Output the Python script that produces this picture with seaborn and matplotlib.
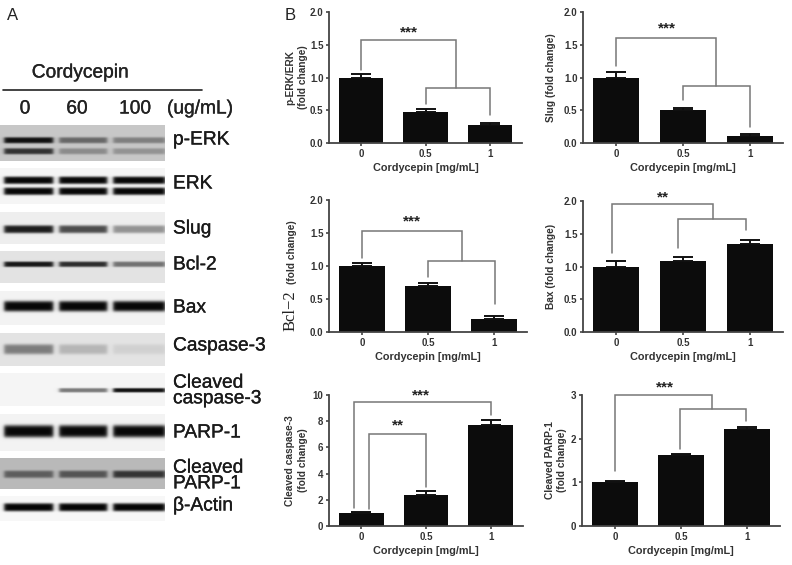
import numpy as np
import pandas as pd
import matplotlib
matplotlib.use('Agg')
import matplotlib.pyplot as plt
import matplotlib.patheffects as pe
import seaborn as sns

sns.set_style('white')
plt.rcParams['font.family'] = ['Liberation Sans', 'DejaVu Sans']

W, H = 792, 565

doses = ['0', '0.5', '1']

perk_vals = [1.0, 0.47, 0.27]
perk_err = [0.05, 0.05, 0.04]
slug_vals = [1.0, 0.5, 0.1]
slug_err = [0.09, 0.04, 0.03]
bcl_vals = [1.0, 0.69, 0.2]
bcl_err = [0.05, 0.05, 0.05]
bax_vals = [1.0, 1.08, 1.35]
bax_err = [0.08, 0.07, 0.05]
casp_vals = [1.0, 2.4, 7.7]
casp_err = [0.1, 0.3, 0.4]
parp_vals = [1.0, 1.62, 2.22]
parp_err = [0.04, 0.04, 0.04]

blot_labels = ['p-ERK', 'ERK', 'Slug', 'Bcl-2', 'Bax', 'Caspase-3', 'Cleaved\ncaspase-3',
               'PARP-1', 'Cleaved\nPARP-1', 'β-Actin']
blot_bg = [0.78, 0.96, 0.93, 0.89, 0.95, 0.89, 0.96, 0.95, 0.73, 0.97]
# band darkness per lane, one row per band
blot_bands = [
    [[0.92, 0.48, 0.36], [0.75, 0.3, 0.26]],
    [[0.97, 0.97, 0.97], [0.97, 0.97, 0.97]],
    [[0.88, 0.68, 0.38]],
    [[0.9, 0.8, 0.5]],
    [[0.97, 0.97, 0.97]],
    [[0.45, 0.2, 0.08]],
    [[0.0, 0.5, 0.93]],
    [[0.97, 0.97, 0.97]],
    [[0.5, 0.55, 0.72]],
    [[0.98, 0.98, 0.98]],
]

# strip layout in image pixels: top, bottom, band centres, band half thickness
strip_box = [(125, 161), (168, 204), (212, 244), (251, 283), (291, 325),
             (333, 366), (373, 406), (414, 451), (458, 489), (496, 521)]
band_y = [[140, 151], [180, 191], [229], [264], [306], [349], [390], [431], [474], [507]]
band_s = [2.8, 3.4, 3.6, 2.5, 4.8, 4.6, 2.0, 5.6, 3.4, 3.7]
label_y = [140, 184, 229, 265, 308, 346, 391, 433, 476, 506]
lanes = [(4, 53), (59, 107), (113, 165)]

heavy = [pe.withStroke(linewidth=0.22, foreground='#1a1a1a')]


def blot_strip(ax, i):
    y0, y1 = strip_box[i]
    xs = np.arange(0, 165, 0.5)
    ys = np.arange(y0, y1, 0.5)
    gx, gy = np.meshgrid(xs, ys)
    img = np.full(gx.shape, blot_bg[i], dtype=float)
    for row, yc in zip(blot_bands[i], band_y[i]):
        for dark, (a, b) in zip(row, lanes):
            mask = 0.5 * (np.tanh((gx - a) / 2.0) - np.tanh((gx - b) / 2.0))
            img -= dark * mask * np.exp(-((gy - yc) / band_s[i]) ** 4 / 1.5) * blot_bg[i]
    ax.imshow(img, extent=(0, 165, y1, y0), cmap='gray', vmin=0, vmax=1,
              aspect='auto', interpolation='bilinear')


def bar_panel(box, vals, err, ylim, yticks, fmt, ylabel, pad, brackets, stars):
    left, right, top, bottom = box
    ax = fig.add_axes([left / W, 1 - bottom / H, (right - left) / W, (bottom - top) / H])
    df = pd.DataFrame({'dose': doses, 'value': vals})
    sns.barplot(data=df, x='dose', y='value', order=doses, color='#0c0c0c', saturation=1,
                width=0.69, errorbar=None, linewidth=0, ax=ax)
    ax.errorbar([0, 1, 2], vals, yerr=[[0, 0, 0], err], fmt='none', ecolor='#111111',
                elinewidth=1.4, capsize=7.5, capthick=1.4)
    ax.set_xlim(-0.5, 2.5)
    ax.set_ylim(*ylim)
    ax.set_yticks(yticks)
    ax.set_yticklabels([fmt % t for t in yticks])
    sns.despine(ax=ax)
    for s in ['left', 'bottom']:
        ax.spines[s].set_color('#444444')
        ax.spines[s].set_linewidth(1.3)
    ax.tick_params(axis='both', length=2.5, width=1.2, color='#444444', left=True, bottom=True,
                   labelsize=7, labelcolor='#333333', pad=1.5)
    for t in ax.get_xticklabels() + ax.get_yticklabels():
        t.set_fontweight('bold')
    ax.set_xlabel('Cordycepin [mg/mL]', fontsize=7.8, fontweight='bold', color='#333333', labelpad=3)
    if ylabel:
        ax.set_ylabel(ylabel, fontsize=7.3, fontweight='bold', color='#333333', labelpad=pad,
                      linespacing=1.35)
    else:
        ax.set_ylabel('')
    for xs, ysb in brackets:
        ax.plot(xs, ysb, color='#777777', lw=1.1, clip_on=False, solid_joinstyle='miter')
    for sx, sy, s in stars:
        ax.text(sx, sy, s, ha='center', va='center', fontsize=11, fontweight='bold',
                color='#222222', clip_on=False)
    return ax


fig = plt.figure(figsize=(W / 100, H / 100), dpi=100, facecolor='white')

# left panel, in image pixels
bg = fig.add_axes([0, 0, 1, 1])
bg.set_xlim(0, W)
bg.set_ylim(H, 0)
bg.axis('off')
for i in range(len(blot_labels)):
    blot_strip(bg, i)
bg.set_xlim(0, W)
bg.set_ylim(H, 0)
for i, lab in enumerate(blot_labels):
    bg.text(173, label_y[i], lab, fontsize=13.8, va='center', ha='left', color='#1a1a1a',
            linespacing=0.9, path_effects=heavy)
bg.text(7, 15, 'A', fontsize=12, ha='left', va='center', color='#222222')
bg.text(290, 16, 'B', fontsize=12, ha='center', va='center', color='#222222')
bg.text(80, 73, 'Cordycepin', fontsize=13.8, ha='center', va='center', color='#222222', path_effects=heavy)
bg.plot([3, 202], [90, 90], color='#222222', lw=1.2)
for x, s in zip([25, 77, 135, 200], ['0', '60', '100', '(ug/mL)']):
    bg.text(x, 109, s, fontsize=13.8, ha='center', va='center', color='#222222', path_effects=heavy)

bar_panel((329, 522, 12, 143), perk_vals, perk_err, (0, 2), [0, 0.5, 1, 1.5, 2], '%.1f',
          'p-ERK/ERK\n(fold change)', 1.5,
          [([0, 0, 1.47, 1.47], [1.12, 1.57, 1.57, 0.84]),
           ([1, 1, 2, 2], [0.6, 0.84, 0.84, 0.43])],
          [(0.75, 1.68, '***')])
bar_panel((583, 783, 12, 143), slug_vals, slug_err, (0, 2), [0, 0.5, 1, 1.5, 2], '%.1f',
          'Slug (fold change)', 5.5,
          [([0, 0, 1.5, 1.5], [1.18, 1.6, 1.6, 0.87]),
           ([1, 1, 2, 2], [0.65, 0.87, 0.87, 0.24])],
          [(0.76, 1.75, '***')])
bar_panel((329, 527, 200, 332), bcl_vals, bcl_err, (0, 2), [0, 0.5, 1, 1.5, 2], '%.1f',
          '', 3,
          [([0, 0, 1.52, 1.52], [1.12, 1.53, 1.53, 1.07]),
           ([1, 1, 2.02, 2.02], [0.84, 1.07, 1.07, 0.42])],
          [(0.76, 1.67, '***')])
bar_panel((583, 783, 201, 332), bax_vals, bax_err, (0, 2), [0, 0.5, 1, 1.5, 2], '%.1f',
          'Bax (fold change)', 5.5,
          [([-0.07, -0.07, 1.45, 1.45], [1.2, 1.95, 1.95, 1.73]),
           ([0.93, 0.93, 1.94, 1.94], [1.28, 1.73, 1.73, 1.55])],
          [(0.7, 2.05, '**')])
bar_panel((329, 523, 395, 526), casp_vals, casp_err, (0, 10), [0, 2, 4, 6, 8, 10], '%d',
          'Cleaved caspase-3\n(fold change)', 3.5,
          [([-0.12, -0.12, 2.0, 2.0], [1.4, 9.5, 9.5, 8.5]),
           ([0.12, 0.12, 1.0, 1.0], [1.3, 7.0, 7.0, 3.0])],
          [(0.92, 9.95, '***'), (0.57, 7.65, '**')])
bar_panel((582, 780, 395, 526), parp_vals, parp_err, (0, 3), [0, 1, 2, 3], '%d',
          'Cleaved PARP-1\n(fold change)', 2.5,
          [([0, 0, 1.47, 1.47], [1.25, 3.0, 3.0, 2.67]),
           ([0.98, 0.98, 1.98, 1.98], [1.76, 2.67, 2.67, 2.4])],
          [(0.75, 3.18, '***')])

# Bcl-2 has a mixed label in the original
fig.text(291 / W, 1 - 311 / H, 'Bcl−2', rotation=90, fontsize=12, family='Liberation Serif',
         ha='center', va='center', color='#222222')
fig.text(292 / W, 1 - 252 / H, '(fold change)', rotation=90, fontsize=7.3, fontweight='bold',
         ha='center', va='center', color='#333333')

fig.savefig('out.png', dpi=100)
